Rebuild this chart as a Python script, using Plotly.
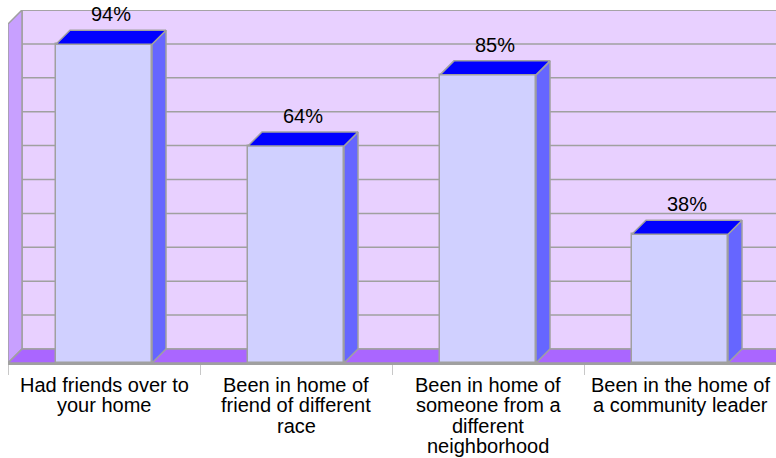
import plotly.graph_objects as go

categories = [["Had friends over to", "your home"],
              ["Been in home of", "friend of different", "race"],
              ["Been in home of", "someone from a", "different", "neighborhood"],
              ["Been in the home of", "a community leader"]]
values = [94, 64, 85, 38]
grid_values = [10, 20, 30, 40, 50, 60, 70, 80, 90, 100]

# depth offset of the 3D effect in data units
DX = 14 / 192
DY = 14 / 3.39
BW = 0.5
EDGE = "#A0A0A0"
WALL = "#E8D0FF"
SIDEWALL = "#C8A0FF"
FLOOR = "#AA66FF"
FRONT = "#D0D0FF"
SIDE = "#6666FF"
TOP = "#0000FF"
FONT = "Liberation Sans, Arial, sans-serif"

n = len(categories)
fig = go.Figure()

shapes = []
# back wall
shapes.append(dict(type="rect", xref="x", yref="y", x0=DX, x1=n + 1, y0=DY, y1=100 + DY,
                   fillcolor=WALL, line=dict(color=EDGE, width=1.5), layer="below"))
# gridlines on back wall
for g in grid_values:
    shapes.append(dict(type="line", xref="x", yref="y", x0=DX, x1=n + 1, y0=g + DY, y1=g + DY,
                       line=dict(color=EDGE, width=1.5), layer="below"))
# left wall
shapes.append(dict(type="path", xref="x", yref="y",
                   path=f"M 0 0 L 0 100 L {DX} {100 + DY} L {DX} {DY} Z",
                   fillcolor=SIDEWALL, line=dict(color=EDGE, width=1.5), layer="below"))
# floor
shapes.append(dict(type="path", xref="x", yref="y",
                   path=f"M 0 0 L {n + 1} 0 L {n + 1 + DX} {DY} L {DX} {DY} Z",
                   fillcolor=FLOOR, line=dict(color=EDGE, width=1.5), layer="below"))

for i, v in enumerate(values):
    x0 = i + 0.5 - BW / 2
    x1 = i + 0.5 + BW / 2
    # side face
    fig.add_trace(go.Scatter(x=[x1, x1 + DX, x1 + DX, x1, x1], y=[0, DY, v + DY, v, 0],
                             fill="toself", fillcolor=SIDE, mode="lines",
                             line=dict(color=EDGE, width=1.5), hoverinfo="skip", showlegend=False))
    # top face
    fig.add_trace(go.Scatter(x=[x0, x1, x1 + DX, x0 + DX, x0], y=[v, v, v + DY, v + DY, v],
                             fill="toself", fillcolor=TOP, mode="lines",
                             line=dict(color=EDGE, width=1.5), hoverinfo="skip", showlegend=False))

# front faces
fig.add_trace(go.Bar(x=[i + 0.5 for i in range(n)], y=values, width=BW,
                     marker=dict(color=FRONT, line=dict(color=EDGE, width=1.5)),
                     showlegend=False, hoverinfo="skip"))

annotations = []
for i, v in enumerate(values):
    annotations.append(dict(x=i + 0.5 + DX / 2, y=v + DY, xref="x", yref="y", text=f"{v}%",
                            showarrow=False, yshift=16, font=dict(size=20, color="black", family=FONT)))

# category labels, one annotation per line for tight line spacing
for i, lines in enumerate(categories):
    for k, line in enumerate(lines):
        annotations.append(dict(x=i + 0.5, y=0, xref="x", yref="paper", text=line,
                                showarrow=False, yanchor="middle", yshift=-22 - 20.3 * k,
                                font=dict(size=20, color="black", family=FONT)))

fig.update_layout(
    width=776, height=458,
    margin=dict(l=8, r=0, t=10, b=95),
    paper_bgcolor="white", plot_bgcolor="white",
    shapes=shapes, annotations=annotations,
    bargap=0,
    xaxis=dict(range=[0, n], tickvals=list(range(n + 1)), showticklabels=False,
               ticks="outside", ticklen=10, tickcolor="#C8C8C8", tickwidth=1,
               showgrid=False, zeroline=False, showline=True,
               linecolor=EDGE, linewidth=1.5),
    yaxis=dict(range=[0, 100 + DY], showgrid=False, zeroline=False, showticklabels=False,
               ticks="", showline=False),
)

fig.write_html("out.html", config={"displayModeBar": False},
               post_script="document.body.style.margin='0px';")
